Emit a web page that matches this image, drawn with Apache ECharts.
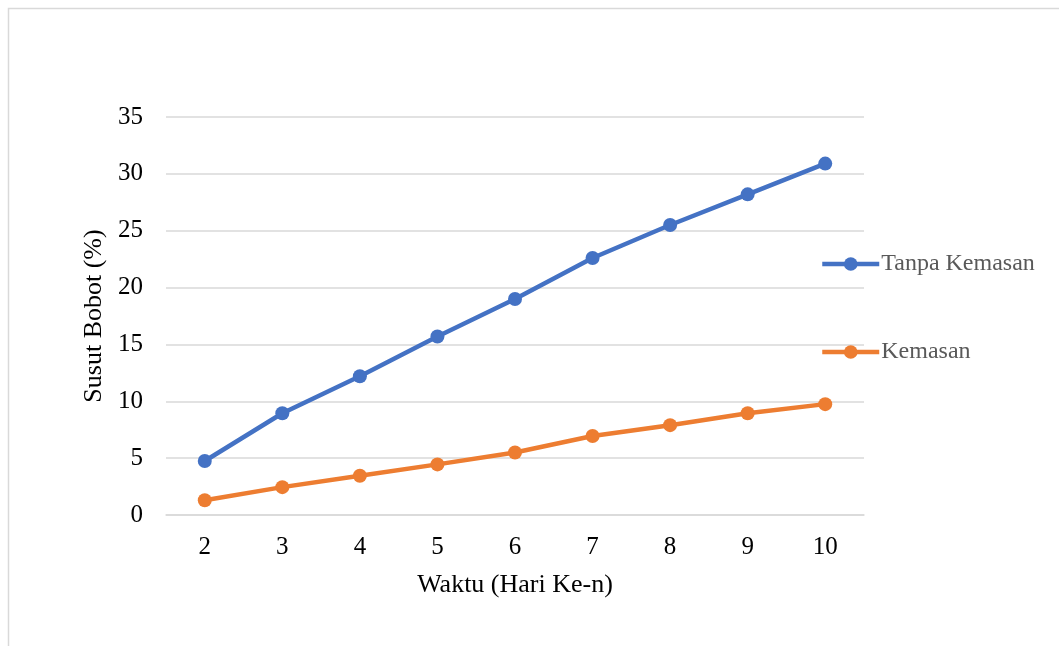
<!DOCTYPE html>
<html>
  <head>
    <meta charset="utf-8" />
    <title>Susut Bobot</title>
    <script src="https://cdn.jsdelivr.net/npm/echarts@6/dist/echarts.min.js"></script>
    <style>
      html, body { margin: 0; padding: 0; background: #fff; }
      #chart { width: 1059px; height: 646px; }
    </style>
  </head>
  <body>
    <div id="chart"></div>
    <script type="text/javascript">
      const days = ['2', '3', '4', '5', '6', '7', '8', '9', '10'];
      const tanpaKemasan = [4.75, 8.95, 12.2, 15.7, 19.0, 22.6, 25.5, 28.2, 30.9];
      const kemasan = [1.3, 2.45, 3.45, 4.45, 5.5, 6.95, 7.9, 8.95, 9.75];

      const font = '"Liberation Serif", "Times New Roman", serif';
      const chart = echarts.init(document.getElementById('chart'));

      chart.setOption({
        animation: false,
        textStyle: { fontFamily: font },
        graphic: [{
          type: 'rect',
          shape: { x: 8.5, y: 8.5, width: 1100, height: 700 },
          style: { fill: null, stroke: '#d9d9d9', lineWidth: 1.5 },
          silent: true
        }],
        grid: { left: 166, right: 195, top: 117, bottom: 131 },
        legend: {
          orient: 'vertical',
          left: 815,
          top: 247,
          itemGap: 64,
          itemWidth: 57,
          itemHeight: 17,
          lineStyle: { width: 4.5 },
          textStyle: { fontFamily: font, fontSize: 24, color: '#595959', padding: [0, 0, 0, -3] },
          data: ['Tanpa Kemasan', 'Kemasan']
        },
        xAxis: {
          type: 'category',
          data: days,
          name: 'Waktu (Hari Ke-n)',
          nameLocation: 'middle',
          nameGap: 57,
          nameTextStyle: { fontFamily: font, fontSize: 26, color: '#000' },
          axisLine: { lineStyle: { color: '#d9d9d9', width: 1.5 } },
          axisTick: { show: false },
          axisLabel: { fontFamily: font, fontSize: 25, color: '#000', margin: 20 }
        },
        yAxis: {
          type: 'value',
          min: 0,
          max: 35,
          interval: 5,
          name: 'Susut Bobot (%)',
          nameLocation: 'middle',
          nameGap: 56,
          nameTextStyle: { fontFamily: font, fontSize: 26, color: '#000' },
          axisLine: { show: false },
          axisTick: { show: false },
          splitLine: { lineStyle: { color: '#d9d9d9', width: 1.5 } },
          axisLabel: { fontFamily: font, fontSize: 25, color: '#000', margin: 23 }
        },
        series: [
          {
            name: 'Tanpa Kemasan',
            type: 'line',
            data: tanpaKemasan,
            symbol: 'circle',
            symbolSize: 14,
            lineStyle: { width: 4.5, color: '#4472c4' },
            itemStyle: { color: '#4472c4' }
          },
          {
            name: 'Kemasan',
            type: 'line',
            data: kemasan,
            symbol: 'circle',
            symbolSize: 14,
            lineStyle: { width: 4.5, color: '#ed7d31' },
            itemStyle: { color: '#ed7d31' }
          }
        ]
      });
    </script>
  </body>
</html>
